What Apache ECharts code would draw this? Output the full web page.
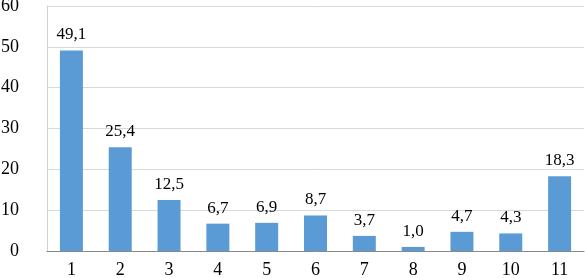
<!DOCTYPE html>
<html>
<head>
<meta charset="utf-8">
<script src="https://cdn.jsdelivr.net/npm/echarts@6/dist/echarts.min.js"></script>
<style>
  html, body { margin: 0; padding: 0; background: #fff; }
  #chart { width: 585px; height: 278px; }
</style>
</head>
<body>
<div id="chart"></div>
<script>
// категории и значения
const categories = ["1", "2", "3", "4", "5", "6", "7", "8", "9", "10", "11"];
const values = [49.1, 25.4, 12.5, 6.7, 6.9, 8.7, 3.7, 1.0, 4.7, 4.3, 18.3];
const yTicks = { min: 0, max: 60, interval: 10 };

const font = "Liberation Serif";
const chart = echarts.init(document.getElementById("chart"));
chart.setOption({
  animation: false,
  grid: { left: 47, right: 1, top: 6, bottom: 27, outerBoundsMode: "none" },
  xAxis: {
    type: "category",
    data: categories,
    axisLine: { lineStyle: { color: "#898989", width: 1 } },
    axisTick: { show: false },
    axisLabel: { color: "#000", fontFamily: font, fontSize: 18, margin: 10 }
  },
  yAxis: {
    type: "value",
    min: yTicks.min,
    max: yTicks.max,
    interval: yTicks.interval,
    axisLine: { show: true, lineStyle: { color: "#d0d0d0", width: 1 } },
    axisTick: { show: false },
    axisLabel: { color: "#000", fontFamily: font, fontSize: 18, margin: 28 },
    splitLine: { lineStyle: { color: "#d9d9d9", width: 1 } }
  },
  series: [{
    type: "bar",
    data: values,
    barWidth: 23,
    itemStyle: { color: "#5b9bd5" },
    label: {
      show: true,
      position: "top",
      distance: 7,
      color: "#000",
      fontFamily: font,
      fontSize: 17,
      formatter: p => p.value.toFixed(1).replace(".", ",")
    }
  }]
});
</script>
</body>
</html>
